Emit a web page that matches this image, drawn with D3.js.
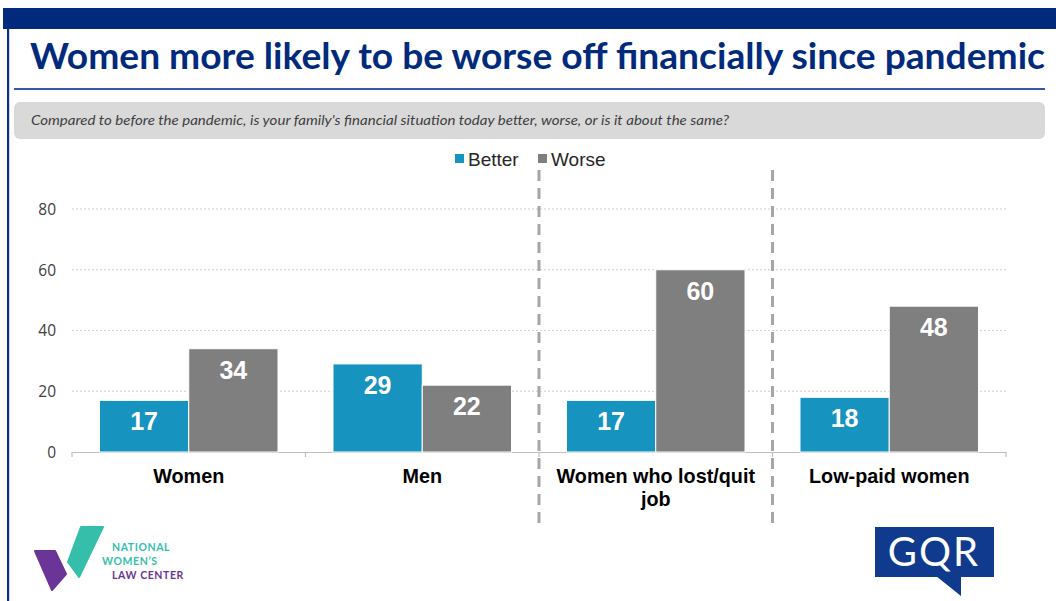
<!DOCTYPE html>
<html>
<head>
<meta charset="utf-8">
<script src="https://cdn.jsdelivr.net/npm/d3@7"></script>
<style>
  html, body { margin: 0; padding: 0; background: #fff; }
  svg { display: block; }
</style>
</head>
<body>
<svg id="chart" width="1056" height="601"></svg>
<script>
// ---- data ----
const categories = ["Women", "Men", "Women who lost/quit job", "Low-paid women"];
const seriesNames = ["Better", "Worse"];
const betterValues = [17, 29, 17, 18];
const worseValues = [34, 22, 60, 48];
const yTicks = [0, 20, 40, 60, 80];
const titleText = "Women more likely to be worse off financially since pandemic";
const questionText = "Compared to before the pandemic, is your family's financial situation today better, worse, or is it about the same?";

const seriesValues = { Better: betterValues, Worse: worseValues };
const colors = { Better: "#1793c0", Worse: "#7f7f7f" };
const navy = "#012a7c";

const svg = d3.select("#chart");
const W = 1056, H = 601;

// ---- slide frame ----
svg.append("rect").attr("x", 3).attr("y", 8).attr("width", W - 3).attr("height", 21).attr("fill", navy);
svg.append("rect").attr("x", 7).attr("y", 28).attr("width", 2.2).attr("height", H - 28).attr("fill", "#0d2f8a");

svg.append("text")
  .attr("x", 30).attr("y", 69)
  .attr("font-family", "Lato, 'Open Sans', sans-serif")
  .attr("font-weight", 700)
  .attr("font-size", 36)
  .attr("fill", navy)
  .attr("textLength", 1015)
  .attr("lengthAdjust", "spacingAndGlyphs")
  .text(titleText);

svg.append("rect").attr("x", 14).attr("y", 88).attr("width", 1031).attr("height", 2).attr("fill", "#3a58a8");

svg.append("rect").attr("x", 14).attr("y", 102).attr("width", 1031).attr("height", 37)
  .attr("rx", 6).attr("fill", "#d9d9d9");
svg.append("text")
  .attr("x", 31).attr("y", 125)
  .attr("font-family", "Lato, 'Open Sans', sans-serif")
  .attr("font-style", "italic")
  .attr("font-size", 12.5)
  .attr("fill", "#404040")
  .attr("textLength", 698)
  .attr("lengthAdjust", "spacingAndGlyphs")
  .text(questionText);

// ---- scales ----
const plotLeft = 72, plotRight = 1006, y0 = 452, y80 = 209;
const x0 = d3.scaleBand().domain(categories).range([plotLeft, plotRight]).padding(0);
const inset = 27.5;
const x1 = d3.scaleBand().domain(seriesNames).range([inset, x0.bandwidth() - inset]).padding(0);
const y = d3.scaleLinear().domain([0, 80]).range([y0, y80]);

// gridlines
svg.append("g").selectAll("line")
  .data(yTicks.filter(d => d > 0))
  .join("line")
  .attr("x1", plotLeft).attr("x2", plotRight)
  .attr("y1", d => y(d)).attr("y2", d => y(d))
  .attr("stroke", "#d0d0d0").attr("stroke-width", 1)
  .attr("stroke-dasharray", "2,2");

// y axis labels
const yAxis = d3.axisLeft(y).tickValues(yTicks).tickSize(0).tickPadding(0);
const yG = svg.append("g").attr("transform", `translate(56,0)`).call(yAxis);
yG.select(".domain").remove();
yG.selectAll("text")
  .attr("font-family", "'Open Sans', sans-serif")
  .attr("font-size", 15.5)
  .attr("fill", "#404040")
  .attr("dy", "0.35em");

// baseline with category ticks
const xAxis = d3.axisBottom(x0).tickSize(0).tickFormat("");
const xG = svg.append("g").attr("transform", `translate(0,${y0})`).call(xAxis);
xG.select(".domain").attr("stroke", "#bfbfbf").attr("stroke-width", 1.2);
xG.selectAll(".tick").remove();
const bounds = categories.map(c => x0(c)).concat([plotRight]);
svg.append("g").selectAll("line").data(bounds).join("line")
  .attr("x1", d => d).attr("x2", d => d)
  .attr("y1", y0).attr("y2", y0 + 5)
  .attr("stroke", "#bfbfbf").attr("stroke-width", 1.2);

// bars
const barData = [];
categories.forEach((c, i) => {
  seriesNames.forEach(s => barData.push({ cat: c, series: s, value: seriesValues[s][i] }));
});

const barG = svg.append("g");
barG.selectAll("rect").data(barData).join("rect")
  .attr("x", d => x0(d.cat) + x1(d.series))
  .attr("y", d => y(d.value))
  .attr("width", x1.bandwidth())
  .attr("height", d => y0 - y(d.value))
  .attr("fill", d => colors[d.series])
  .attr("stroke", "#ffffff").attr("stroke-width", 1);

barG.selectAll("text").data(barData).join("text")
  .attr("x", d => x0(d.cat) + x1(d.series) + x1.bandwidth() / 2)
  .attr("y", d => y(d.value) + 30)
  .attr("text-anchor", "middle")
  .attr("font-family", "'Liberation Sans', Arial, sans-serif")
  .attr("font-weight", 700)
  .attr("font-size", 25)
  .attr("fill", "#ffffff")
  .text(d => d.value);

// dashed separators
svg.append("g").selectAll("line")
  .data([categories[2], categories[3]])
  .join("line")
  .attr("x1", d => x0(d)).attr("x2", d => x0(d))
  .attr("y1", 170).attr("y2", 527)
  .attr("stroke", "#a6a6a6").attr("stroke-width", 3)
  .attr("stroke-dasharray", "11,7");

// category labels, wrapped to the band width
const catG = svg.append("g");
categories.forEach(c => {
  const cx = x0(c) + x0.bandwidth() / 2;
  const t = catG.append("text")
    .attr("x", cx)
    .attr("y", 483)
    .attr("text-anchor", "middle")
    .attr("font-family", "'Liberation Sans', Arial, sans-serif")
    .attr("font-weight", 700)
    .attr("font-size", 19.8)
    .attr("fill", "#000");
  const words = c.split(" ");
  let line = [];
  let tspan = t.append("tspan").attr("x", cx).attr("dy", 0);
  words.forEach(w => {
    line.push(w);
    tspan.text(line.join(" "));
    if (tspan.node().getComputedTextLength() > 220 && line.length > 1) {
      line.pop();
      tspan.text(line.join(" "));
      line = [w];
      tspan = t.append("tspan").attr("x", cx).attr("dy", 23).text(w);
    }
  });
});

// legend
const legend = svg.append("g").attr("font-family", "'Liberation Sans', Arial, sans-serif").attr("font-size", 19);
const legendPos = [{ s: "Better", x: 455 }, { s: "Worse", x: 538 }];
legendPos.forEach(p => {
  legend.append("rect").attr("x", p.x).attr("y", 154).attr("width", 9).attr("height", 9).attr("fill", colors[p.s]);
  legend.append("text").attr("x", p.x + 13).attr("y", 166).attr("fill", "#262626").text(p.s);
});

// NWLC logo
const logo = svg.append("g");
logo.append("path")
  .attr("d", "M35,551 L55,551 L66,574 L52,590 Z")
  .attr("fill", "#6b3597").attr("stroke", "#6b3597").attr("stroke-width", 2).attr("stroke-linejoin", "round");
logo.append("path")
  .attr("d", "M81,527 L103,527 L79,577 L68,562 Z")
  .attr("fill", "#35bfab").attr("stroke", "#35bfab").attr("stroke-width", 2).attr("stroke-linejoin", "round");
const nwlc = logo.append("g").attr("font-family", "Lato, 'Open Sans', sans-serif").attr("font-weight", 700).attr("font-size", 10.5);
nwlc.append("text").attr("x", 112).attr("y", 551).attr("fill", "#35bfab").attr("letter-spacing", 0.6).text("NATIONAL");
nwlc.append("text").attr("x", 102).attr("y", 565).attr("fill", "#35bfab").attr("letter-spacing", 0.6).text("WOMEN\u2019S");
nwlc.append("text").attr("x", 112).attr("y", 579).attr("fill", "#6b3597").attr("letter-spacing", 0.6).text("LAW CENTER");

// GQR logo
const gqr = svg.append("g");
gqr.append("rect").attr("x", 875).attr("y", 527).attr("width", 119).attr("height", 50).attr("fill", "#0f3a8e");
gqr.append("path").attr("d", "M936,576 L961,596 L961,576 Z").attr("fill", "#0f3a8e");
gqr.append("text")
  .attr("x", 934).attr("y", 566)
  .attr("text-anchor", "middle")
  .attr("font-family", "Lato, 'Open Sans', sans-serif")
  .attr("font-size", 40)
  .attr("fill", "#ffffff")
  .attr("letter-spacing", 2)
  .text("GQR");
</script>
</body>
</html>
